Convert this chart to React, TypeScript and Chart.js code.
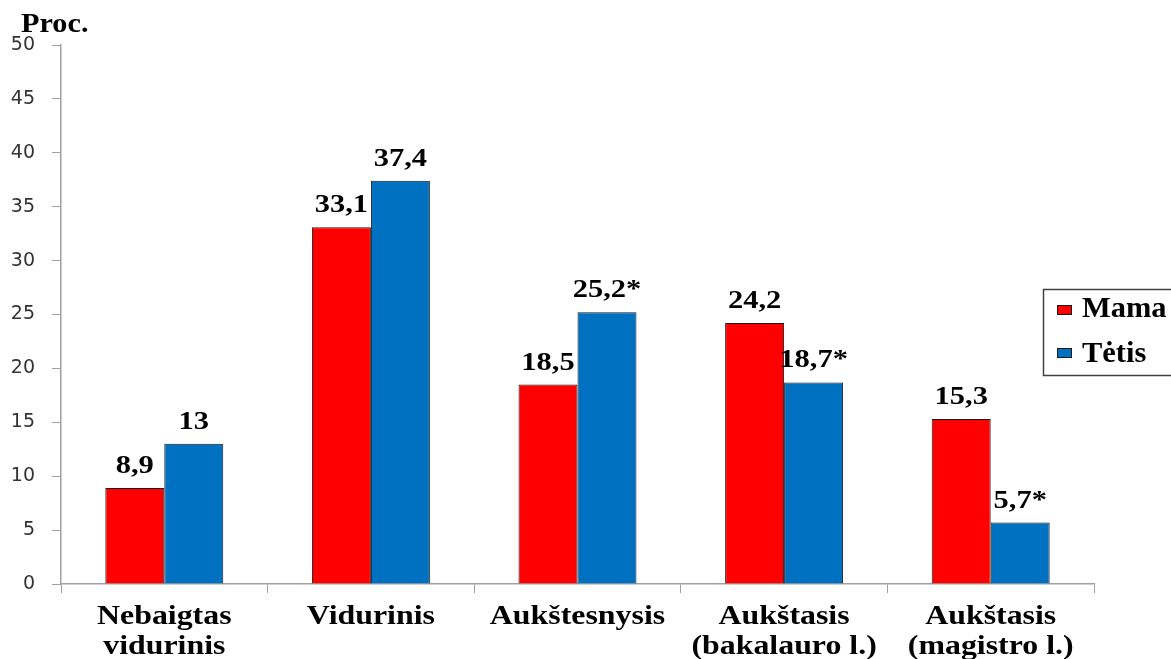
import React, { useEffect, useRef } from "react";
import { Chart, registerables } from "chart.js";

Chart.register(...registerables);

const categories: string[][] = [
  ["Nebaigtas", "vidurinis"],
  ["Vidurinis"],
  ["Aukštesnysis"],
  ["Aukštasis", "(bakalauro l.)"],
  ["Aukštasis", "(magistro l.)"],
];
const seriesNames = ["Mama", "Tėtis"];
const mamaValues = [8.9, 33.1, 18.5, 24.2, 15.3];
const tetisValues = [13, 37.4, 25.2, 18.7, 5.7];
const mamaLabels = ["8,9", "33,1", "18,5", "24,2", "15,3"];
const tetisLabels = ["13", "37,4", "25,2*", "18,7*", "5,7*"];
const yAxisTitle = "Proc.";
const yMin = 0;
const yMax = 50;
const yStep = 5;

const SERIF = '"Liberation Serif", "Times New Roman", serif';

function drawText(
  ctx: CanvasRenderingContext2D,
  text: string,
  x: number,
  y: number,
  size: number,
  sx: number,
  align: CanvasTextAlign = "center"
) {
  ctx.save();
  ctx.font = `bold ${size}px ${SERIF}`;
  ctx.fillStyle = "#000";
  ctx.textAlign = align;
  ctx.textBaseline = "alphabetic";
  ctx.translate(x, y);
  ctx.scale(sx, 1);
  ctx.fillText(text, 0, 0);
  ctx.restore();
}

const customPlugin = {
  id: "customText",
  afterDatasetsDraw(chart: any) {
    const ctx = chart.ctx as CanvasRenderingContext2D;
    const labelSets = [mamaLabels, tetisLabels];
    chart.data.datasets.forEach((_ds: any, di: number) => {
      const meta = chart.getDatasetMeta(di);
      meta.data.forEach((bar: any, i: number) => {
        drawText(ctx, labelSets[di][i], bar.x, bar.y - 15, 25, 1.22);
      });
    });
  },
  afterDraw(chart: any) {
    const ctx = chart.ctx as CanvasRenderingContext2D;
    const xs = chart.scales.x;
    const bottom = chart.chartArea.bottom;
    categories.forEach((lines, i) => {
      const cx = xs.getPixelForTick(i);
      lines.forEach((line, li) => {
        drawText(ctx, line, cx, bottom + 40 + li * 30, 27, 1.18);
      });
    });
    drawText(ctx, yAxisTitle, 21, 32, 27, 1.12, "left");
    ctx.save();
    ctx.strokeStyle = "#404040";
    ctx.lineWidth = 1.5;
    ctx.strokeRect(1043.5, 289.5, 160, 86);
    ctx.restore();
    const rows = [
      { y: 317, sq: 305 },
      { y: 362, sq: 348 },
    ];
    chart.data.datasets.forEach((ds: any, di: number) => {
      ctx.save();
      ctx.fillStyle = ds.backgroundColor;
      ctx.strokeStyle = "#1a1a1a";
      ctx.lineWidth = 1;
      ctx.fillRect(1057, rows[di].sq, 15, 10);
      ctx.strokeRect(1057.5, rows[di].sq + 0.5, 14, 9);
      ctx.restore();
      drawText(ctx, seriesNames[di], 1082, rows[di].y, 29, 1.05, "left");
    });
  },
};

export default function App() {
  const canvasRef = useRef<HTMLCanvasElement | null>(null);

  useEffect(() => {
    if (!canvasRef.current) return;
    const chart = new Chart(canvasRef.current, {
      type: "bar",
      data: {
        labels: categories.map((c) => c.join(" ")),
        datasets: [
          {
            label: seriesNames[0],
            data: mamaValues,
            backgroundColor: "#FF0000",
            borderColor: "#1a1a1a",
            borderWidth: 1,
            categoryPercentage: 0.571,
            barPercentage: 1,
          },
          {
            label: seriesNames[1],
            data: tetisValues,
            backgroundColor: "#0070C0",
            borderColor: "#1a1a1a",
            borderWidth: 1,
            categoryPercentage: 0.571,
            barPercentage: 1,
          },
        ],
      },
      options: {
        responsive: false,
        devicePixelRatio: 1,
        animation: false,
        layout: { padding: { top: 45, right: 77, left: 0, bottom: 0 } },
        plugins: {
          legend: { display: false },
          tooltip: { enabled: false },
          title: { display: false },
        },
        scales: {
          x: {
            afterFit: (s: any) => {
              s.height = 75;
            },
            grid: {
              display: true,
              drawOnChartArea: false,
              drawTicks: true,
              tickLength: 9,
              color: "#A0A0A0",
              offset: true,
            },
            border: { display: true, color: "#A0A0A0", width: 1.5 },
            ticks: { display: false },
          },
          y: {
            min: yMin,
            max: yMax,
            afterFit: (s: any) => {
              s.width = 61;
            },
            grid: {
              display: true,
              drawOnChartArea: false,
              drawTicks: true,
              tickLength: 9,
              color: "#A0A0A0",
            },
            border: { display: true, color: "#A0A0A0", width: 1.5 },
            ticks: {
              stepSize: yStep,
              padding: 17,
              color: "#333",
              font: { family: '"DejaVu Sans", sans-serif', size: 19 },
            },
          },
        },
      },
      plugins: [customPlugin],
    });
    return () => chart.destroy();
  }, []);

  return (
    <div style={{ position: "fixed", left: 0, top: 0, width: 1171, height: 659, background: "#fff" }}>
      <canvas ref={canvasRef} width={1171} height={659} />
    </div>
  );
}
